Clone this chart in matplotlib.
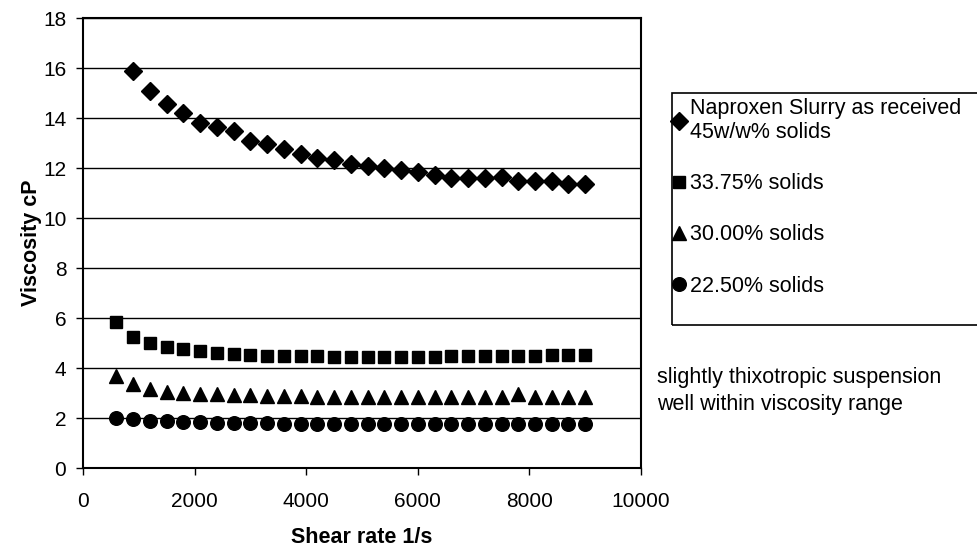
import matplotlib
matplotlib.use("Agg")
import matplotlib.pyplot as plt
from matplotlib.patches import Rectangle

plt.rcParams['font.family'] = ['Liberation Sans', 'DejaVu Sans']

# data
shear_rate = [600, 900, 1200, 1500, 1800, 2100, 2400, 2700, 3000, 3300,
              3600, 3900, 4200, 4500, 4800, 5100, 5400, 5700, 6000, 6300,
              6600, 6900, 7200, 7500, 7800, 8100, 8400, 8700, 9000]
shear_rate_45 = shear_rate[1:]

visc_45 = [15.9, 15.1, 14.57, 14.2, 13.8, 13.64, 13.5, 13.08, 12.97, 12.77,
           12.57, 12.41, 12.31, 12.15, 12.07, 12.01, 11.93, 11.84, 11.71, 11.61,
           11.61, 11.61, 11.64, 11.5, 11.5, 11.5, 11.37, 11.37]
visc_3375 = [5.85, 5.25, 5.0, 4.85, 4.75, 4.68, 4.62, 4.57, 4.53, 4.5,
             4.5, 4.48, 4.47, 4.46, 4.46, 4.45, 4.45, 4.45, 4.46, 4.46,
             4.47, 4.47, 4.48, 4.48, 4.5, 4.5, 4.51, 4.52, 4.53]
visc_30 = [3.7, 3.38, 3.18, 3.05, 3.0, 2.97, 2.95, 2.93, 2.92, 2.9,
           2.88, 2.87, 2.86, 2.86, 2.85, 2.85, 2.85, 2.85, 2.85, 2.85,
           2.85, 2.85, 2.85, 2.85, 2.95, 2.85, 2.85, 2.85, 2.85]
visc_225 = [2.0, 1.95, 1.9, 1.87, 1.85, 1.83, 1.82, 1.8, 1.8, 1.79,
            1.78, 1.78, 1.77, 1.77, 1.77, 1.76, 1.76, 1.76, 1.76, 1.76,
            1.76, 1.76, 1.76, 1.76, 1.75, 1.75, 1.75, 1.75, 1.75]

labels = ["Naproxen Slurry as received\n45w/w% solids",
          "33.75% solids", "30.00% solids", "22.50% solids"]
note = "slightly thixotropic suspension\nwell within viscosity range"

fig = plt.figure(figsize=(9.78, 5.5), dpi=100)
ax = fig.add_axes([83/978, 1 - 468/550, (641 - 83)/978, (468 - 18)/550])

ax.plot(shear_rate_45, visc_45, 'D', color='black', ms=9.6, ls='none', label=labels[0])
ax.plot(shear_rate, visc_3375, 's', color='black', ms=9.3, ls='none', label=labels[1])
ax.plot(shear_rate, visc_30, '^', color='black', ms=9.8, ls='none', label=labels[2])
ax.plot(shear_rate, visc_225, 'o', color='black', ms=9.8, ls='none', label=labels[3])

ax.set_xlim(0, 10000)
ax.set_ylim(0, 18)
ax.set_xticks([0, 2000, 4000, 6000, 8000, 10000])
ax.set_yticks(range(0, 19, 2))
ax.yaxis.grid(True, color='black', lw=1)
ax.set_axisbelow(True)
for s in ax.spines.values():
    s.set_color('black')
    s.set_linewidth(1.5)
ax.tick_params(direction='out', length=5, width=1, labelsize=15, colors='black', pad=7)
ax.tick_params(axis='x', pad=12)

ax.set_xlabel("Shear rate 1/s", fontsize=15.5, fontweight='bold', labelpad=12)
ax.set_ylabel("Viscosity cP", fontsize=15.5, fontweight='bold', labelpad=1)

# legend box (cut at right edge like the original)
fig.patches.append(Rectangle((672/978, 1 - 325/550), (990 - 672)/978, (325 - 93)/550,
                             transform=fig.transFigure, fill=False, edgecolor='black',
                             lw=1.2, clip_on=False))
leg = fig.legend(loc='upper left', bbox_to_anchor=(673/978, 1 - 98/550),
                 frameon=False, fontsize=15.5, markerscale=1.0,
                 handlelength=0.6, handletextpad=0.2, labelspacing=1.4,
                 borderpad=0, borderaxespad=0)

fig.text(657/978, 1 - 391/550, note, fontsize=15.5, va='center', ha='left', linespacing=1.35)

fig.savefig("out.png", dpi=100)
